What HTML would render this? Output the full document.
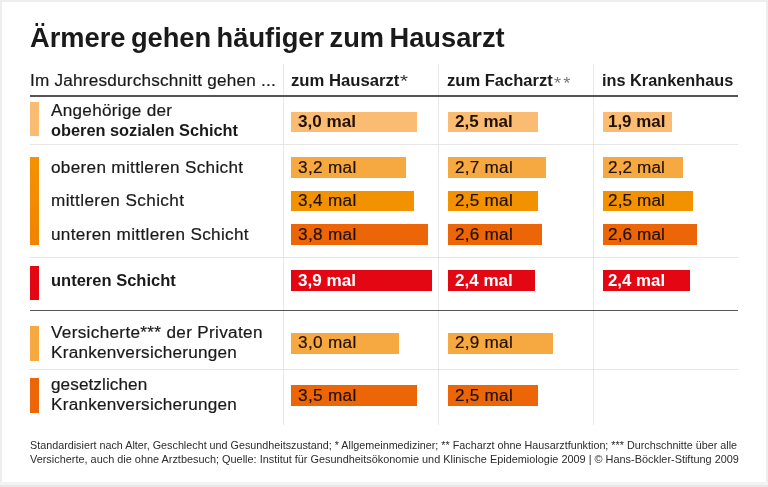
<!DOCTYPE html>
<html lang="de"><head><meta charset="utf-8"><title>Ärmere gehen häufiger zum Hausarzt</title>
<style>
html,body{margin:0;padding:0;}
body{width:768px;height:487px;overflow:hidden;background:#eee;font-family:"Liberation Sans",sans-serif;color:#1a1a1a;position:relative;}
#card{position:absolute;left:2px;top:2px;width:764px;height:480px;background:#fff;}
.t{position:absolute;white-space:nowrap;line-height:1;transform-origin:0 50%;}
.hl{position:absolute;left:30.4px;width:707.4px;height:1.6px;background:#555;}
.tl{position:absolute;left:30.4px;width:707.4px;height:1px;background:#e6e6e6;}
.vl{position:absolute;top:64px;height:360.5px;width:1px;background:#e8e8e8;}
.sw{position:absolute;left:30.4px;width:8.5px;}
.bar{position:absolute;height:20.7px;}
</style></head><body>
<div id="card"></div>
<div class="edge" style="position:absolute;left:0;top:482px;width:768px;height:3px;background:#f3f3f3"></div>
<div class="edge" style="position:absolute;left:0;top:485px;width:768px;height:2px;background:#e8e8e8"></div>
<div class="vl" style="left:283px"></div>
<div class="vl" style="left:438px"></div>
<div class="vl" style="left:593px"></div>
<div class="hl" style="top:95.25px"></div>
<div class="tl" style="top:144px"></div>
<div class="tl" style="top:257px"></div>
<div class="hl" style="top:309.9px"></div>
<div class="tl" style="top:369px"></div>
<div class="sw" style="top:102px;height:34px;background:#fabb72"></div>
<div class="sw" style="top:157px;height:87.5px;background:linear-gradient(#f39200,#f08400)"></div>
<div class="sw" style="top:265.5px;height:34.5px;background:#e30613"></div>
<div class="sw" style="top:325.5px;height:35px;background:#f7a941"></div>
<div class="sw" style="top:378px;height:35px;background:#ec6608"></div>
<div class="bar" style="left:290.5px;top:111.5px;width:126.7px;background:#fabb72"></div>
<div class="bar" style="left:447.75px;top:111.5px;width:90.6px;background:#fabb72"></div>
<div class="bar" style="left:602.9px;top:111.5px;width:69.0px;background:#fabb72"></div>
<div class="bar" style="left:290.5px;top:157.3px;width:115.8px;background:#f7a941"></div>
<div class="bar" style="left:447.75px;top:157.3px;width:97.8px;background:#f7a941"></div>
<div class="bar" style="left:602.9px;top:157.3px;width:79.8px;background:#f7a941"></div>
<div class="bar" style="left:290.5px;top:190.8px;width:123.0px;background:#f39200"></div>
<div class="bar" style="left:447.75px;top:190.8px;width:90.6px;background:#f39200"></div>
<div class="bar" style="left:602.9px;top:190.8px;width:90.6px;background:#f39200"></div>
<div class="bar" style="left:290.5px;top:224.3px;width:137.4px;background:#ec6608"></div>
<div class="bar" style="left:447.75px;top:224.3px;width:94.2px;background:#ec6608"></div>
<div class="bar" style="left:602.9px;top:224.3px;width:94.2px;background:#ec6608"></div>
<div class="bar" style="left:290.5px;top:270.1px;width:141.0px;background:#e30613"></div>
<div class="bar" style="left:447.75px;top:270.1px;width:87.0px;background:#e30613"></div>
<div class="bar" style="left:602.9px;top:270.1px;width:87.0px;background:#e30613"></div>
<div class="bar" style="left:290.5px;top:332.9px;width:108.6px;background:#f7a941"></div>
<div class="bar" style="left:447.75px;top:332.9px;width:105.0px;background:#f7a941"></div>
<div class="bar" style="left:290.5px;top:385.2px;width:126.6px;background:#ec6608"></div>
<div class="bar" style="left:447.75px;top:385.2px;width:90.6px;background:#ec6608"></div>
<div class="t" id="h1" style="left:30px;top:25.00px;font-size:27px;color:#1a1a1a;font-weight:bold;word-spacing:-2.1px;transform:scaleX(1.0094);">Ärmere gehen häufiger zum Hausarzt</div>
<div class="t" id="hd0" style="left:30px;top:73.00px;font-size:16px;color:#1a1a1a;-webkit-text-stroke:0.2px;letter-spacing:0.213px;transform:scaleX(1.0700);">Im Jahresdurchschnitt gehen ...</div>
<div class="t" id="hd1" style="left:291px;top:73.00px;font-size:16px;color:#1a1a1a;font-weight:bold;transform:scaleX(1.0420);">zum Hausarzt</div>
<div class="t" id="hd1a" style="left:400px;top:73.00px;font-size:17px;color:#333;transform:scaleX(1.1996);">*</div>
<div class="t" id="hd2" style="left:447px;top:73.00px;font-size:16px;color:#1a1a1a;font-weight:bold;transform:scaleX(1.0349);">zum Facharzt</div>
<div class="t" id="hd2a" style="left:554px;top:75.00px;font-size:17px;color:#777;letter-spacing:2.115px;transform:scaleX(1.0700);">**</div>
<div class="t" id="hd3" style="left:602px;top:73.00px;font-size:16px;color:#1a1a1a;font-weight:bold;transform:scaleX(1.0179);">ins Krankenhaus</div>
<div class="t" id="l1a" style="left:51px;top:103.00px;font-size:16px;color:#1a1a1a;-webkit-text-stroke:0.2px;letter-spacing:0.282px;transform:scaleX(1.0700);">Angehörige der</div>
<div class="t" id="l1b" style="left:51px;top:123.00px;font-size:16px;color:#1a1a1a;font-weight:bold;transform:scaleX(1.0211);">oberen sozialen Schicht</div>
<div class="t" id="l2" style="left:51px;top:160.00px;font-size:16px;color:#1a1a1a;-webkit-text-stroke:0.2px;letter-spacing:0.303px;transform:scaleX(1.0700);">oberen mittleren Schicht</div>
<div class="t" id="l3" style="left:51px;top:193.00px;font-size:16px;color:#1a1a1a;-webkit-text-stroke:0.2px;letter-spacing:0.376px;transform:scaleX(1.0700);">mittleren Schicht</div>
<div class="t" id="l4" style="left:51px;top:227.00px;font-size:16px;color:#1a1a1a;-webkit-text-stroke:0.2px;letter-spacing:0.321px;transform:scaleX(1.0700);">unteren mittleren Schicht</div>
<div class="t" id="l5" style="left:51px;top:273.00px;font-size:16px;color:#1a1a1a;font-weight:bold;transform:scaleX(1.0325);">unteren Schicht</div>
<div class="t" id="l6a" style="left:51px;top:325.00px;font-size:16px;color:#1a1a1a;-webkit-text-stroke:0.2px;letter-spacing:0.314px;transform:scaleX(1.0700);">Versicherte*** der Privaten</div>
<div class="t" id="l6b" style="left:51px;top:345.00px;font-size:16px;color:#1a1a1a;-webkit-text-stroke:0.2px;letter-spacing:0.237px;transform:scaleX(1.0700);">Krankenversicherungen</div>
<div class="t" id="l7a" style="left:51px;top:377.00px;font-size:16px;color:#1a1a1a;-webkit-text-stroke:0.2px;letter-spacing:0.091px;transform:scaleX(1.0700);">gesetzlichen</div>
<div class="t" id="l7b" style="left:51px;top:397.00px;font-size:16px;color:#1a1a1a;-webkit-text-stroke:0.2px;letter-spacing:0.237px;transform:scaleX(1.0700);">Krankenversicherungen</div>
<div class="t" id="f1" style="left:30px;top:440.00px;font-size:10.5px;color:#2b2b2b;transform:scaleX(1.0258);">Standardisiert nach Alter, Geschlecht und Gesundheitszustand; * Allgemeinmediziner; ** Facharzt ohne Hausarztfunktion; *** Durchschnitte über alle</div>
<div class="t" id="f2" style="left:30px;top:454.00px;font-size:10.5px;color:#2b2b2b;transform:scaleX(1.0381);">Versicherte, auch die ohne Arztbesuch; Quelle: Institut für Gesundheitsökonomie und Klinische Epidemiologie 2009 | © Hans-Böckler-Stiftung 2009</div>
<div class="t" id="b1" style="left:298px;top:114.00px;font-size:16px;color:#221000;font-weight:bold;letter-spacing:0.011px;transform:scaleX(1.0700);">3,0 mal</div>
<div class="t" id="b2" style="left:455px;top:114.00px;font-size:16px;color:#221000;font-weight:bold;transform:scaleX(1.0640);">2,5 mal</div>
<div class="t" id="b3" style="left:608px;top:114.00px;font-size:16px;color:#221000;font-weight:bold;transform:scaleX(1.0572);">1,9 mal</div>
<div class="t" id="b4" style="left:298px;top:160.00px;font-size:16px;color:#221000;-webkit-text-stroke:0.2px;letter-spacing:0.336px;transform:scaleX(1.0700);">3,2 mal</div>
<div class="t" id="b5" style="left:455px;top:160.00px;font-size:16px;color:#221000;-webkit-text-stroke:0.2px;letter-spacing:0.243px;transform:scaleX(1.0700);">2,7 mal</div>
<div class="t" id="b6" style="left:608px;top:160.00px;font-size:16px;color:#221000;-webkit-text-stroke:0.2px;letter-spacing:0.109px;transform:scaleX(1.0700);">2,2 mal</div>
<div class="t" id="b7" style="left:298px;top:193.00px;font-size:16px;color:#221000;-webkit-text-stroke:0.2px;letter-spacing:0.336px;transform:scaleX(1.0700);">3,4 mal</div>
<div class="t" id="b8" style="left:455px;top:193.00px;font-size:16px;color:#221000;-webkit-text-stroke:0.2px;letter-spacing:0.243px;transform:scaleX(1.0700);">2,5 mal</div>
<div class="t" id="b9" style="left:608px;top:193.00px;font-size:16px;color:#221000;-webkit-text-stroke:0.2px;letter-spacing:0.109px;transform:scaleX(1.0700);">2,5 mal</div>
<div class="t" id="b10" style="left:298px;top:227.00px;font-size:16px;color:#221000;-webkit-text-stroke:0.2px;letter-spacing:0.336px;transform:scaleX(1.0700);">3,8 mal</div>
<div class="t" id="b11" style="left:455px;top:227.00px;font-size:16px;color:#221000;-webkit-text-stroke:0.2px;letter-spacing:0.243px;transform:scaleX(1.0700);">2,6 mal</div>
<div class="t" id="b12" style="left:608px;top:227.00px;font-size:16px;color:#221000;-webkit-text-stroke:0.2px;letter-spacing:0.109px;transform:scaleX(1.0700);">2,6 mal</div>
<div class="t" id="b13" style="left:298px;top:273.00px;font-size:16px;color:#fff;font-weight:bold;letter-spacing:0.011px;transform:scaleX(1.0700);">3,9 mal</div>
<div class="t" id="b14" style="left:455px;top:273.00px;font-size:16px;color:#fff;font-weight:bold;transform:scaleX(1.0640);">2,4 mal</div>
<div class="t" id="b15" style="left:608px;top:273.00px;font-size:16px;color:#fff;font-weight:bold;transform:scaleX(1.0523);">2,4 mal</div>
<div class="t" id="b16" style="left:298px;top:335.00px;font-size:16px;color:#221000;-webkit-text-stroke:0.2px;letter-spacing:0.336px;transform:scaleX(1.0700);">3,0 mal</div>
<div class="t" id="b17" style="left:455px;top:335.00px;font-size:16px;color:#221000;-webkit-text-stroke:0.2px;letter-spacing:0.243px;transform:scaleX(1.0700);">2,9 mal</div>
<div class="t" id="b18" style="left:298px;top:388.00px;font-size:16px;color:#221000;-webkit-text-stroke:0.2px;letter-spacing:0.336px;transform:scaleX(1.0700);">3,5 mal</div>
<div class="t" id="b19" style="left:455px;top:388.00px;font-size:16px;color:#221000;-webkit-text-stroke:0.2px;letter-spacing:0.243px;transform:scaleX(1.0700);">2,5 mal</div>
</body></html>
